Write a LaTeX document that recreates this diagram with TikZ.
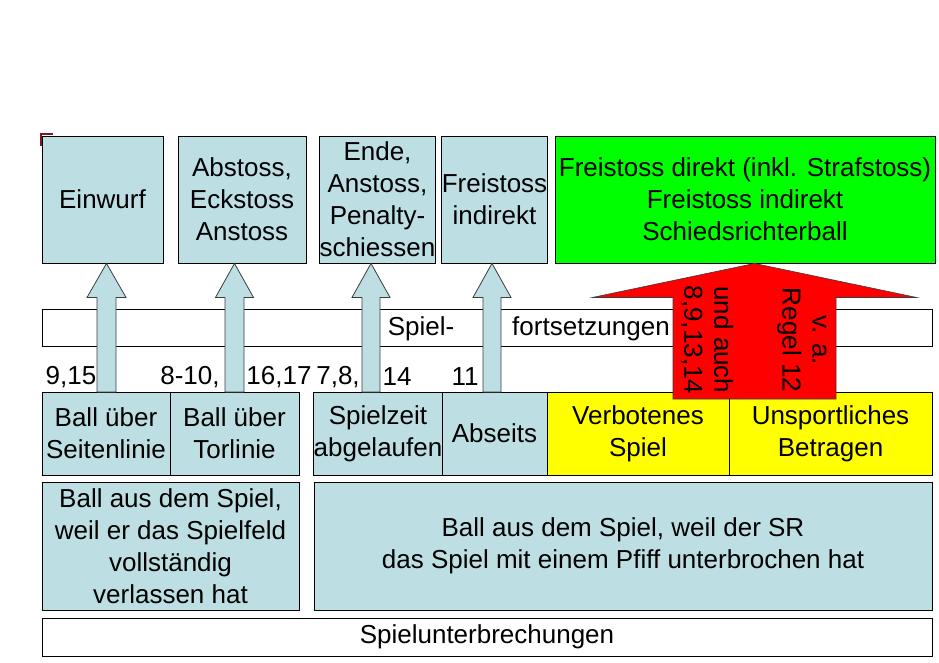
\documentclass[tikz,border=0pt]{standalone}
\usepackage{fontspec}
\setmainfont{Liberation Sans}
\usetikzlibrary{calc}
\definecolor{lblue}{RGB}{189,223,227}
\definecolor{agray}{RGB}{60,60,60}
\definecolor{dred}{RGB}{130,20,35}
\definecolor{fgreen}{RGB}{0,255,0}
\definecolor{fyellow}{RGB}{255,255,0}
\definecolor{fred}{RGB}{255,0,0}
\newcommand\fs{\fontsize{26}{32}\selectfont}
\newcommand\rbox[7]{\node[#1,minimum width={#4-#2},minimum height={#5-#3}] (#6) at ({(#2+#4)/2},{(#3+#5)/2}) {#7};}
\newcommand\blockarrow[6]{\path[#1] let \p1=(#2), \p2=(#3) in (\x2-#4,\y1) -- (\x2-#4,\y2-#6) -- (\x2-#5,\y2-#6) -- (\x2,\y2) -- (\x2+#5,\y2-#6) -- (\x2+#4,\y2-#6) -- (\x2+#4,\y1) -- cycle;}
\begin{document}
\begin{tikzpicture}[x=1pt,y=-1pt,
  box/.style={draw=black,line width=0.9pt,fill=lblue,inner sep=0pt,align=center,font=\fs},
  wbox/.style={box,fill=white},
  gbox/.style={box,fill=fgreen},
  ybox/.style={box,fill=fyellow},
  lbl/.style={inner sep=0pt,font=\fs,align=center},
  barrow/.style={draw=agray,line width=0.8pt,fill=lblue,line join=miter},
  rarrow/.style={draw=agray,line width=0.6pt,fill=fred,line join=miter}]
\useasboundingbox (0,0) rectangle (939,663);
\draw[dred,line width=2.5pt] (41,146) -- (41,134) -- (53,134);
% bar
\rbox{wbox}{42}{309}{932}{346}{bar}{}
\node[lbl] (sp1) at (421,329) {Spiel-};
\node[lbl] (sp2) at (591,329) {fortsetzungen};
% top row
\rbox{box}{42}{136}{163}{263}{einw}{Einwurf}
\rbox{box}{178}{136}{306}{263}{abst}{Abstoss,\\Eckstoss\\Anstoss}
\rbox{box}{321}{136}{434}{263}{ende}{Ende,\\Anstoss,\\Penalty-\\schiessen}
\rbox{box}{442}{136}{547}{263}{frei}{Freistoss\\indirekt}
\rbox{gbox}{555}{136}{935}{263}{green}{Freistoss direkt (inkl. Strafstoss)\\Freistoss indirekt\\Schiedsrichterball}
% middle row
\rbox{box}{42}{392}{170}{475}{seit}{Ball über\\Seitenlinie}
\rbox{box}{170}{392}{299}{475}{tor}{Ball über\\Torlinie}
\rbox{box}{314}{392}{442}{475}{zeit}{Spielzeit\\abgelaufen}
\rbox{box}{442}{392}{547}{475}{abse}{Abseits}
\rbox{ybox}{547}{392}{729}{475}{verb}{Verbotenes\\Spiel}
\rbox{ybox}{729}{392}{932}{475}{unsp}{Unsportliches\\Betragen}
% bottom
\rbox{box}{42}{482}{299}{610}{bl}{Ball aus dem Spiel,\\weil er das Spielfeld\\vollständig\\verlassen hat}
\rbox{box}{314}{482}{932}{610}{br}{Ball aus dem Spiel, weil der SR\\das Spiel mit einem Pfiff unterbrochen hat}
\rbox{wbox}{42}{618}{932}{656}{unter}{Spielunterbrechungen}
% blue arrows
\coordinate (a1b) at (106.5,392); \coordinate (a1t) at (a1b |- einw.south);
\coordinate (a2b) at (234.5,392); \coordinate (a2t) at (a2b |- abst.south);
\coordinate (a3b) at (371,392);   \coordinate (a3t) at (a3b |- ende.south);
\coordinate (a4b) at (492,392);   \coordinate (a4t) at (a4b |- frei.south);
\blockarrow{barrow}{a1b}{a1t}{9.5pt}{19.5pt}{34pt}
\blockarrow{barrow}{a2b}{a2t}{9.5pt}{19pt}{34pt}
\blockarrow{barrow}{a3b}{a3t}{9pt}{19pt}{34pt}
\blockarrow{barrow}{a4b}{a4t}{9pt}{19pt}{34pt}
% numbers
\node[lbl] (n1) at (71,377) {9,15};
\node[lbl] (n2) at (190,377) {8-10,};
\node[lbl] (n3) at (279,377) {16,17};
\node[lbl] (n4) at (338,377) {7,8,};
\node[lbl] (n5) at (397,377) {14};
\node[lbl] (n6) at (465,377) {11};
% red arrow
\coordinate (rb) at (754.5,399); \coordinate (rt) at (rb |- green.south);
\blockarrow{rarrow}{rb}{rt}{81.5pt}{162pt}{34pt}
\node[lbl,rotate=-90,font=\fontsize{26}{30}\selectfont] (r1) at (802,340) {v. a.\\Regel 12};
\node[lbl,rotate=-90,font=\fontsize{26}{30}\selectfont] (r2) at (707,340) {und auch\\8,9,13,14};
\end{tikzpicture}
\end{document}
